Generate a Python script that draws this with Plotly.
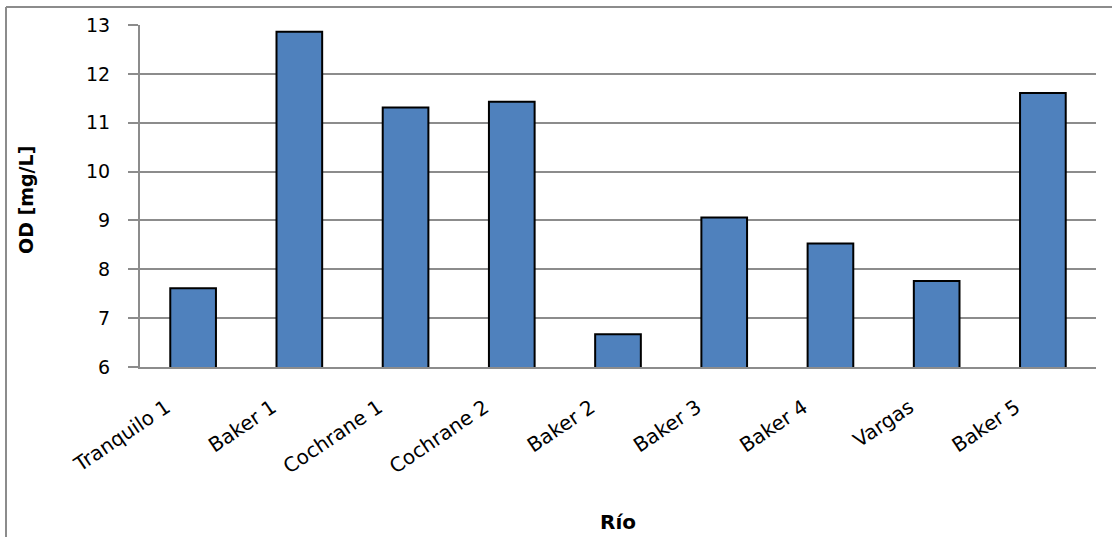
import plotly.graph_objects as go

categories = ["Tranquilo 1", "Baker 1", "Cochrane 1", "Cochrane 2", "Baker 2",
              "Baker 3", "Baker 4", "Vargas", "Baker 5"]
od_values = [7.61, 12.86, 11.31, 11.43, 6.67, 9.06, 8.53, 7.76, 11.61]
y_ticks = [6, 7, 8, 9, 10, 11, 12, 13]

W, H = 1112, 537
L, R, T, B = 140, 16, 25, 170
pw, ph = W - L - R, H - T - B

FONT = "DejaVu Sans"

fig = go.Figure(go.Bar(
    x=categories, y=od_values,
    marker=dict(color="#4F81BD", line=dict(color="black", width=2)),
    width=0.43,
))

fig.update_layout(
    width=W, height=H,
    margin=dict(l=L, r=R, t=T, b=B, pad=0),
    paper_bgcolor="white", plot_bgcolor="white",
    showlegend=False,
    font=dict(family=FONT, size=19, color="black"),
    xaxis=dict(
        showline=True, linecolor="#8c8c8c", linewidth=2,
        showgrid=False, ticks="", tickangle=-34,
        tickfont=dict(family=FONT, size=20, color="black"),
        ticklabelstandoff=19, ticklabelshift=-27,
    ),
    yaxis=dict(
        range=[6, 13], tickvals=y_ticks,
        showline=True, linecolor="#8c8c8c", linewidth=2,
        showgrid=True, gridcolor="#8c8c8c", gridwidth=1.5,
        ticks="outside", ticklen=10, tickcolor="#8c8c8c", tickwidth=1.5,
        tickfont=dict(family=FONT, size=19, color="black"),
        ticklabelstandoff=14,
        zeroline=False,
    ),
    annotations=[
        dict(text="<b>OD [mg/L]</b>", textangle=-90, showarrow=False,
             xref="paper", yref="paper",
             x=(26 - L) / pw, y=(H - B - 200) / ph,
             xanchor="center", yanchor="middle",
             font=dict(family=FONT, size=19, color="black")),
        dict(text="<b>Río</b>", showarrow=False,
             xref="paper", yref="paper",
             x=(618 - L) / pw, y=(H - B - 522) / ph,
             xanchor="center", yanchor="middle",
             font=dict(family=FONT, size=20, color="black")),
    ],
    shapes=[
        dict(type="line", xref="paper", yref="paper",
             x0=(6 - L) / pw, x1=(6 - L) / pw,
             y0=(H - B - 7) / ph, y1=(H - B - H - 5) / ph,
             line=dict(color="#8c8c8c", width=2)),
        dict(type="line", xref="paper", yref="paper",
             x0=(6 - L) / pw, x1=(W + 5 - L) / pw,
             y0=(H - B - 7) / ph, y1=(H - B - 7) / ph,
             line=dict(color="#8c8c8c", width=2)),
    ],
)

fig.write_html("out.html")
